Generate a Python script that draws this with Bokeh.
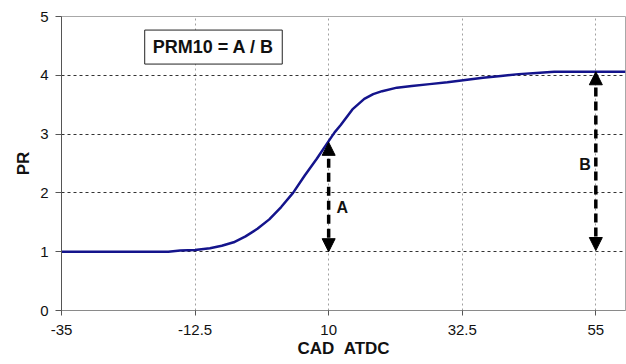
from bokeh.plotting import figure
from bokeh.models import Range1d, FixedTicker, Arrow, NormalHead, Label
from bokeh.embed import file_html
from bokeh.resources import INLINE

# Data
cad = [-35, -20, -17, -15, -12.5, -10, -8, -6, -4, -2, 0, 2, 4, 6, 8, 10, 11,
       12, 14, 16, 17.5, 19, 21.5, 24, 27, 30, 33, 36, 39, 42, 45, 48, 52, 56, 60]
pr = [1.0, 1.0, 1.0, 1.02, 1.03, 1.06, 1.1, 1.16, 1.26, 1.39, 1.55, 1.76, 2.0,
      2.3, 2.58, 2.88, 3.03, 3.15, 3.42, 3.6, 3.68, 3.73, 3.79, 3.82, 3.85,
      3.88, 3.92, 3.96, 3.99, 4.02, 4.04, 4.06, 4.06, 4.06, 4.06]

x_ticks = [-35, -12.5, 10, 32.5, 55]
x_tick_labels = ["-35", "-12.5", "10", "32.5", "55"]
y_ticks = [0, 1, 2, 3, 4, 5]
y_grid_lines = [1, 2, 3, 4]

arrow_a = {"x": 10, "y_low": 1.0, "y_high": 2.86}
arrow_b = {"x": 55, "y_low": 1.02, "y_high": 4.06}

FONT = "Liberation Sans"

p = figure(width=626, height=364, output_backend="svg", toolbar_location=None,
           x_range=Range1d(-35, 60), y_range=Range1d(0, 5),
           min_border_left=61, min_border_right=1, min_border_top=16,
           min_border_bottom=54)
p.background_fill_color = "white"
p.border_fill_color = "white"
p.outline_line_color = "#a8a8a8"
p.outline_line_width = 1

# axes
p.xaxis.ticker = FixedTicker(ticks=x_ticks)
p.xaxis.major_label_overrides = {t: l for t, l in zip(x_ticks, x_tick_labels)}
p.yaxis.ticker = FixedTicker(ticks=y_ticks)
for ax in (p.xaxis, p.yaxis):
    ax.minor_tick_line_color = None
    ax.major_tick_in = 0
    ax.major_label_text_font = FONT
    ax.major_label_text_font_size = "15px"
    ax.major_label_text_color = "#111111"
    ax.axis_label_text_font = FONT
    ax.axis_label_text_font_style = "bold"
    ax.axis_label_text_font_size = "17px"
    ax.axis_label_text_color = "#111111"

p.xaxis.axis_label = "CAD\u00a0\u00a0ATDC"
p.xaxis.axis_line_color = "#8a8a8a"
p.xaxis.major_tick_line_color = "#555555"
p.xaxis.major_tick_out = 5
p.xaxis.major_label_standoff = 9
p.xaxis.axis_label_standoff = 1

p.yaxis.axis_label = "PR"
p.yaxis.axis_line_color = "#555555"
p.yaxis.major_tick_line_color = "#555555"
p.yaxis.major_tick_out = 6
p.yaxis.major_label_standoff = 7
p.yaxis.axis_label_standoff = 4

# grid
p.xgrid.ticker = FixedTicker(ticks=x_ticks[1:])
p.xgrid.grid_line_color = "#a0a0a0"
p.xgrid.grid_line_dash = "2 3"
p.ygrid.ticker = FixedTicker(ticks=y_grid_lines)
p.ygrid.grid_line_color = "#333333"
p.ygrid.grid_line_dash = "3 3"

# curve
p.line(cad, pr, line_color="#14148c", line_width=2.5)

# double-headed dashed arrows
for a in (arrow_a, arrow_b):
    p.add_layout(Arrow(
        start=NormalHead(size=13, fill_color="black", line_color="black", line_width=1),
        end=NormalHead(size=13, fill_color="black", line_color="black", line_width=1),
        x_start=a["x"], y_start=a["y_low"],
        x_end=a["x"], y_end=a["y_high"],
        line_color="black", line_width=3.5, line_dash="9 5"))

# labels
p.add_layout(Label(x=12.3, y=1.75, text="A", text_font=FONT, text_font_style="bold",
                   text_font_size="16px", text_align="center", text_baseline="middle",
                   text_color="#111111"))
p.add_layout(Label(x=53.2, y=2.48, text="B", text_font=FONT, text_font_style="bold",
                   text_font_size="16px", text_align="center", text_baseline="middle",
                   text_color="#111111"))
p.add_layout(Label(x=-9.4, y=4.48, text="PRM10 = A / B", text_font=FONT,
                   text_font_style="bold", text_font_size="18px",
                   text_align="center", text_baseline="middle", text_color="#111111",
                   border_line_color="#222222", border_line_width=1,
                   background_fill_color="white", padding=(8, 7)))

open("out.html", "w").write(file_html(p, INLINE))
